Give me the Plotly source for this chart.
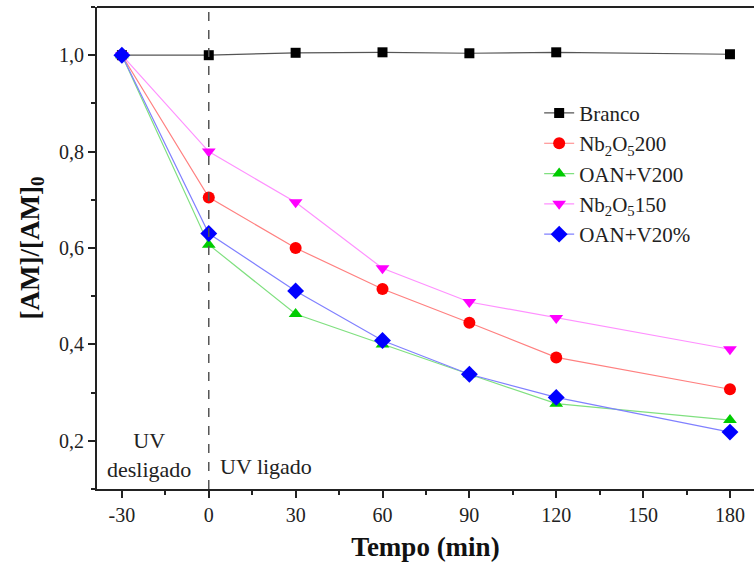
import plotly.graph_objects as go

tempo = [-30, 0, 30, 60, 90, 120, 180]
branco = [1.000, 1.000, 1.005, 1.006, 1.004, 1.006, 1.002]
nb2o5_200 = [1.000, 0.705, 0.600, 0.515, 0.445, 0.373, 0.307]
oan_v200 = [1.000, 0.607, 0.463, 0.400, 0.338, 0.277, 0.243]
nb2o5_150 = [1.000, 0.800, 0.695, 0.558, 0.488, 0.455, 0.390]
oan_v20 = [1.000, 0.630, 0.511, 0.408, 0.338, 0.290, 0.218]

x_ticks = [-30, 0, 30, 60, 90, 120, 150, 180]
x_tick_labels = ["-30", "0", "30", "60", "90", "120", "150", "180"]
y_ticks = [0.2, 0.4, 0.6, 0.8, 1.0]
y_tick_labels = ["0,2", "0,4", "0,6", "0,8", "1,0"]

series = [
    ("Branco", branco, "#000000", "#555555", "square", 10),
    ("Nb<sub>2</sub>O<sub>5</sub>200", nb2o5_200, "#ff0000", "#ff8080", "circle", 12),
    ("OAN+V200", oan_v200, "#00cc00", "#80e080", "triangle-up", 12),
    ("Nb<sub>2</sub>O<sub>5</sub>150", nb2o5_150, "#ff00ff", "#ff90ff", "triangle-down", 12),
    ("OAN+V20%", oan_v20, "#0000ff", "#8080ff", "diamond", 13),
]

FONT = "Liberation Serif"
TXT = "#222222"

fig = go.Figure()
for i, (name, vals, mc, lc, sym, sz) in enumerate(series):
    fig.add_trace(go.Scatter(
        x=tempo, y=vals, name=name, mode="lines+markers",
        line=dict(color=lc, width=1.2),
        marker=dict(color=mc, symbol=sym, size=sz, line=dict(width=0)),
    ))

fig.add_shape(type="line", x0=0, x1=0, y0=0, y1=1, xref="x", yref="paper",
              line=dict(color="#555555", width=1.5, dash="dash"))

fig.add_annotation(x=-20.6, y=0.171, xref="x", yref="y", text="UV<br>desligado",
                   showarrow=False, font=dict(family=FONT, size=22, color=TXT),
                   align="center")
fig.add_annotation(x=3.2, y=0.146, xref="x", yref="y", text="UV ligado",
                   showarrow=False, xanchor="left",
                   font=dict(family=FONT, size=22, color=TXT))

fig.update_layout(
    width=754, height=570,
    margin=dict(l=97, r=0, t=7, b=81),
    paper_bgcolor="white", plot_bgcolor="white",
    font=dict(family=FONT, size=20, color=TXT),
    showlegend=True,
    legend=dict(x=0.673, y=0.822, xanchor="left", yanchor="top",
                font=dict(family=FONT, size=21, color=TXT),
                bgcolor="rgba(0,0,0,0)"),
    xaxis=dict(
        range=[-38.6, 188.3], tickvals=x_ticks, ticktext=x_tick_labels,
        ticks="outside", ticklen=7,
        tickwidth=2, tickcolor=TXT, showline=True, linecolor=TXT,
        linewidth=2, mirror=False, showgrid=False, zeroline=False,
        tickfont=dict(family=FONT, size=20, color=TXT),
        minor=dict(dtick=15, tick0=-30, ticks="outside", ticklen=4,
                   tickwidth=2, tickcolor=TXT),
        title=dict(text="<b>Tempo (min)</b>",
                   font=dict(family=FONT, size=27, color="#111111"),
                   standoff=12),
    ),
    yaxis=dict(
        range=[0.1, 1.1], tickvals=y_ticks, ticktext=y_tick_labels,
        ticks="outside", ticklen=7, tickwidth=2, tickcolor=TXT,
        showline=True, linecolor=TXT, linewidth=2, showgrid=False,
        zeroline=False, tickfont=dict(family=FONT, size=20, color=TXT),
        minor=dict(dtick=0.1, tick0=0.1, ticks="outside", ticklen=4,
                   tickwidth=2, tickcolor=TXT),
        title=dict(text="<b>[AM]/[AM]<sub>0</sub></b>",
                   font=dict(family=FONT, size=27, color="#111111"),
                   standoff=12),
    ),
)

# top frame line
fig.add_shape(type="line", x0=0, x1=1, y0=1, y1=1, xref="paper", yref="paper",
              line=dict(color=TXT, width=2))

fig.write_html("out.html")
